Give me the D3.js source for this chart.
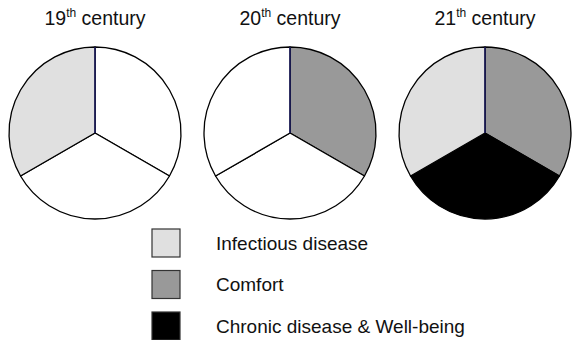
<!DOCTYPE html>
<html>
<head>
<meta charset="utf-8">
<script src="https://cdn.jsdelivr.net/npm/d3@7/dist/d3.min.js"></script>
<style>
  html, body { margin: 0; padding: 0; background: #fff; }
  svg { display: block; }
  text { font-family: "Liberation Sans", Arial, sans-serif; fill: #111; }
</style>
</head>
<body>
<svg id="chart" width="579" height="340"></svg>
<script>
// Centuries shown, one pie each
const centuries = ["19", "20", "21"];
const ordinalSuffix = ["th", "th", "th"];

// Determinants of health, in clockwise order from 12 o'clock
const factors = ["Comfort", "Chronic disease & Well-being", "Infectious disease"];
// Each determinant takes an equal third of every pie
const shares = [1, 1, 1];
// Whether each determinant dominates in a given century (1 = shaded)
const active19 = [0, 0, 1];
const active20 = [1, 0, 0];
const active21 = [1, 1, 1];

// Legend order and fill colours
const legendOrder = ["Infectious disease", "Comfort", "Chronic disease & Well-being"];
const legendColors = ["#e0e0e0", "#999999", "#000000"];

const activeByCentury = [active19, active20, active21];

const svg = d3.select("#chart");
const radius = 86;

const x = d3.scalePoint().domain(centuries).range([95, 485]);
const cy = 133;

const color = d3.scaleOrdinal().domain(legendOrder).range(legendColors);

const pie = d3.pie().sort(null).value(d => d.share);
const arc = d3.arc().innerRadius(0).outerRadius(radius);

centuries.forEach((c, i) => {
  const g = svg.append("g").attr("transform", `translate(${x(c)},${cy})`);
  const data = factors.map((f, j) => ({ factor: f, share: shares[j], on: activeByCentury[i][j] }));

  g.selectAll("path")
    .data(pie(data))
    .join("path")
    .attr("d", arc)
    .attr("fill", d => d.data.on ? color(d.data.factor) : "#ffffff")
    .attr("stroke", "#000")
    .attr("stroke-width", 1.3)
    .attr("stroke-linejoin", "round");

  // first radius (12 o'clock) is drawn in dark blue
  const a0 = pie(data)[0].startAngle;
  g.append("line")
    .attr("x1", 0).attr("y1", 0)
    .attr("x2", radius * Math.sin(a0))
    .attr("y2", -radius * Math.cos(a0))
    .attr("stroke", "#1c1c6b")
    .attr("stroke-width", 1.3);

  // title with superscript ordinal
  const t = svg.append("text")
    .attr("x", x(c))
    .attr("y", 25)
    .attr("text-anchor", "middle")
    .style("font-size", "19.5px");
  t.append("tspan").text(c);
  t.append("tspan").attr("dy", -8).style("font-size", "12px").text(ordinalSuffix[i]);
  t.append("tspan").attr("dy", 8).text(" century");
});

// Legend
const ly = d3.scalePoint().domain(legendOrder).range([243, 326]);
const lg = svg.append("g");
legendOrder.forEach(name => {
  lg.append("rect")
    .attr("x", 152)
    .attr("y", ly(name) - 14)
    .attr("width", 28)
    .attr("height", 28)
    .attr("fill", color(name))
    .attr("stroke", "#333")
    .attr("stroke-width", 1.2);
  lg.append("text")
    .attr("x", 216)
    .attr("y", ly(name) + 6.5)
    .style("font-size", "19px")
    .text(name);
});
</script>
</body>
</html>
